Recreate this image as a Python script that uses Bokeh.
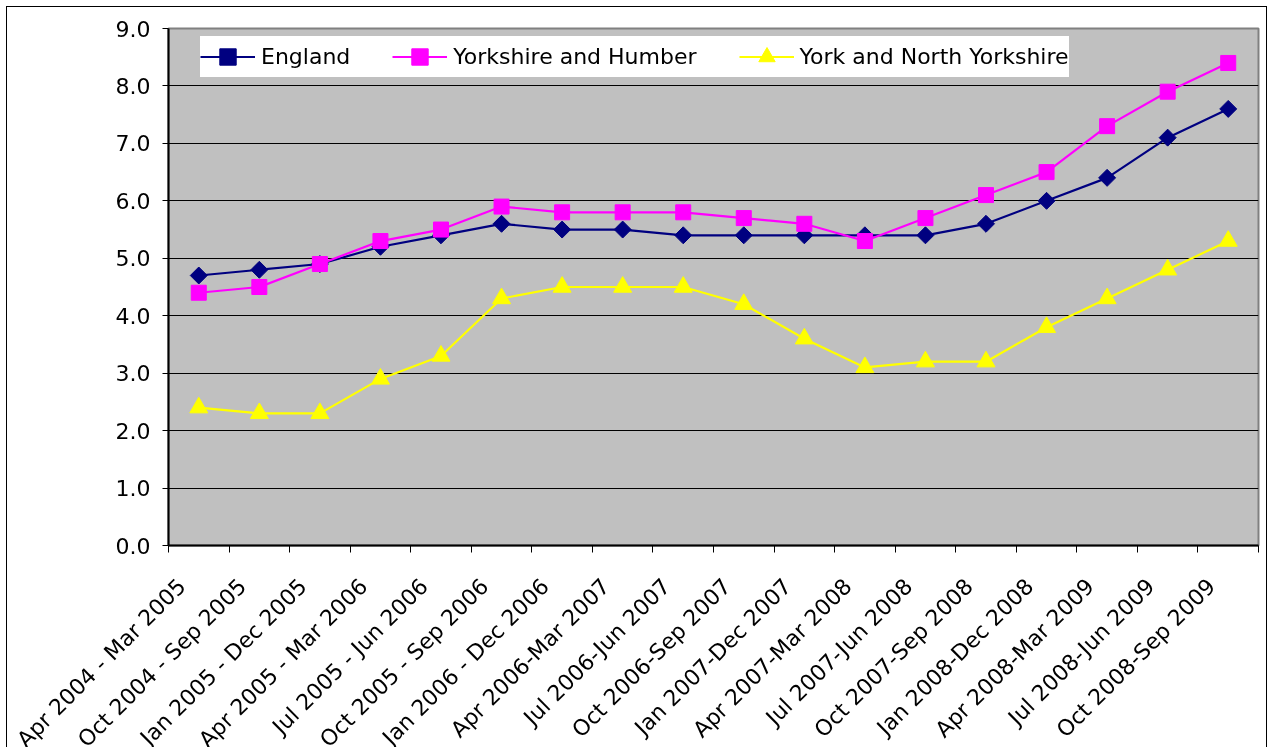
import math
from bokeh.plotting import figure
from bokeh.models import Range1d, FixedTicker, Legend, LegendItem, NumeralTickFormatter
from bokeh.embed import file_html
from bokeh.resources import INLINE

periods = ["Apr 2004 - Mar 2005", "Oct 2004 - Sep 2005", "Jan 2005 - Dec 2005",
           "Apr 2005 - Mar 2006", "Jul 2005 - Jun 2006", "Oct 2005 - Sep 2006",
           "Jan 2006 - Dec 2006", "Apr 2006-Mar 2007", "Jul 2006-Jun 2007",
           "Oct 2006-Sep 2007", "Jan 2007-Dec 2007", "Apr 2007-Mar 2008",
           "Jul 2007-Jun 2008", "Oct 2007-Sep 2008", "Jan 2008-Dec 2008",
           "Apr 2008-Mar 2009", "Jul 2008-Jun 2009", "Oct 2008-Sep 2009"]
england = [4.7, 4.8, 4.9, 5.2, 5.4, 5.6, 5.5, 5.5, 5.4, 5.4, 5.4, 5.4, 5.4, 5.6, 6.0, 6.4, 7.1, 7.6]
yorks_humber = [4.4, 4.5, 4.9, 5.3, 5.5, 5.9, 5.8, 5.8, 5.8, 5.7, 5.6, 5.3, 5.7, 6.1, 6.5, 7.3, 7.9, 8.4]
york_north = [2.4, 2.3, 2.3, 2.9, 3.3, 4.3, 4.5, 4.5, 4.5, 4.2, 3.6, 3.1, 3.2, 3.2, 3.8, 4.3, 4.8, 5.3]
y_ticks = [0, 1, 2, 3, 4, 5, 6, 7, 8, 9]

FONT = "DejaVu Sans"
n = len(periods)
xs = [i + 0.5 for i in range(n)]
label_pos = [i + 0.22 for i in range(n)]  # rotated label anchor, like Excel

p = figure(width=1259, height=758, output_backend="svg", toolbar_location=None,
           x_range=Range1d(0, n), y_range=Range1d(0, 9),
           min_border_left=161, min_border_right=8, min_border_top=21, min_border_bottom=220)
p.styles = {"position": "fixed", "left": "7px", "top": "7px", "outline": "1px solid #000000"}
p.background_fill_color = "#C0C0C0"
p.border_fill_color = "#FFFFFF"
p.outline_line_color = "#808080"
p.outline_line_width = 2

# y axis
p.yaxis.ticker = FixedTicker(ticks=y_ticks)
p.yaxis.formatter = NumeralTickFormatter(format="0.0")
p.yaxis.major_label_text_font = FONT
p.yaxis.major_label_text_font_size = "22px"
p.yaxis.major_label_text_color = "#000000"
p.yaxis.axis_line_color = "#000000"
p.yaxis.axis_line_width = 2
p.yaxis.major_tick_out = 6
p.yaxis.major_tick_in = 0
p.yaxis.minor_tick_line_color = None
p.yaxis.major_label_standoff = 12

# x axis
p.xaxis.ticker = FixedTicker(ticks=label_pos, minor_ticks=list(range(n + 1)))
p.xaxis.major_label_overrides = {x: lab for x, lab in zip(label_pos, periods)}
p.xaxis.major_tick_line_color = None
p.xaxis.minor_tick_line_color = "#000000"
p.xaxis.minor_tick_out = 7
p.xaxis.minor_tick_in = 0
p.xaxis.major_label_orientation = math.pi / 4
p.xaxis.major_label_text_font = FONT
p.xaxis.major_label_text_font_size = "22px"
p.xaxis.major_label_text_color = "#000000"
p.xaxis.axis_line_color = "#000000"
p.xaxis.axis_line_width = 2
p.xaxis.major_label_standoff = 30

p.xgrid.grid_line_color = None
p.ygrid.ticker = FixedTicker(ticks=y_ticks)
p.ygrid.grid_line_color = "#000000"
p.ygrid.grid_line_width = 1

series = [
    ("England", england, "#000080", "square", math.pi / 4, 12),
    ("Yorkshire and Humber", yorks_humber, "#FF00FF", "square", 0, 15),
    ("York and North Yorkshire", york_north, "#FFFF00", "triangle", 0, 18),
]
items = []
for name, vals, col, marker, ang, sz in series:
    l = p.line(xs, vals, line_color=col, line_width=2.2)
    m = p.scatter(xs, vals, marker=marker, angle=ang, size=sz, fill_color=col, line_color=col)
    items.append(LegendItem(label=name, renderers=[l, m]))

legend = Legend(items=items, orientation="horizontal", location=(32, 468),
                background_fill_color="#FFFFFF", background_fill_alpha=1.0,
                border_line_color=None, padding=14, spacing=42, margin=0,
                glyph_width=55, glyph_height=41, label_height=41, label_standoff=6,
                label_text_font=FONT, label_text_font_size="22px", label_text_color="#000000")
p.add_layout(legend, "center")

open("out.html", "w").write(file_html(p, INLINE))
